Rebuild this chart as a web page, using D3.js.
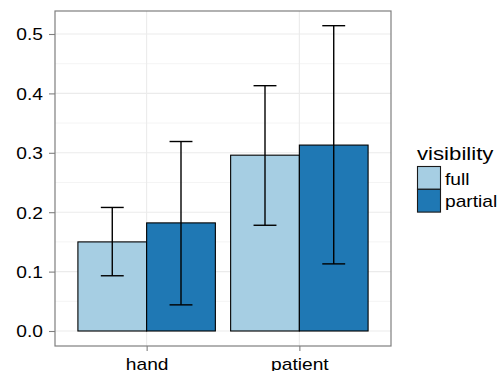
<!DOCTYPE html>
<html><head><meta charset="utf-8">
<script src="https://cdn.jsdelivr.net/npm/d3@7"></script>
<style>body{margin:0;background:#fff;} svg{display:block;}</style>
</head><body>
<script>
const categories = ["hand", "patient"];
const seriesNames = ["full", "partial"];
const fullMean = [0.150, 0.296];
const fullLow = [0.093, 0.178];
const fullHigh = [0.208, 0.413];
const partialMean = [0.182, 0.313];
const partialLow = [0.044, 0.113];
const partialHigh = [0.319, 0.514];
const yTicks = [0.0, 0.1, 0.2, 0.3, 0.4, 0.5];
const yMinor = [0.05, 0.15, 0.25, 0.35, 0.45];
const colors = ["#A6CEE3", "#1F78B4"];
const legendTitle = "visibility";

const W = 503, H = 371;
const panel = {l: 55, r: 391, t: 11, b: 346};
const SX = 1.2;
const FONT = "'Liberation Sans', Arial, sans-serif";

const svg = d3.select("body").append("svg").attr("width", W).attr("height", H);

const y = d3.scaleLinear().domain([0, 0.5]).range([331, 34]);
const x = d3.scalePoint().domain(categories).range([panel.l, panel.r]).padding(0.6);
const step = x.step();
const dodge = d3.scaleBand().domain(seriesNames).range([-0.45 * step, 0.45 * step]).padding(0);

// grid
const g = svg.append("g");
g.selectAll(".minor").data(yMinor).join("line")
  .attr("x1", panel.l).attr("x2", panel.r)
  .attr("y1", d => y(d)).attr("y2", d => y(d))
  .attr("stroke", "#f3f3f3").attr("stroke-width", 0.9);
g.selectAll(".major").data(yTicks).join("line")
  .attr("x1", panel.l).attr("x2", panel.r)
  .attr("y1", d => y(d)).attr("y2", d => y(d))
  .attr("stroke", "#ebebeb").attr("stroke-width", 1.1);
g.selectAll(".vmajor").data(categories).join("line")
  .attr("x1", d => x(d)).attr("x2", d => x(d))
  .attr("y1", panel.t).attr("y2", panel.b)
  .attr("stroke", "#ebebeb").attr("stroke-width", 1.1);

// data
const rows = [];
categories.forEach((c, i) => {
  rows.push({cat: c, s: "full", mean: fullMean[i], lo: fullLow[i], hi: fullHigh[i], color: colors[0]});
  rows.push({cat: c, s: "partial", mean: partialMean[i], lo: partialLow[i], hi: partialHigh[i], color: colors[1]});
});

svg.append("g").selectAll("rect").data(rows).join("rect")
  .attr("x", d => x(d.cat) + dodge(d.s))
  .attr("width", dodge.bandwidth())
  .attr("y", d => y(d.mean))
  .attr("height", d => y(0) - y(d.mean))
  .attr("fill", d => d.color)
  .attr("stroke", "#000").attr("stroke-width", 1.1);

const ew = 0.15 * step;
const eb = svg.append("g").attr("stroke", "#000").attr("stroke-width", 1.4).attr("fill", "none");
rows.forEach(d => {
  const cx = x(d.cat) + dodge(d.s) + dodge.bandwidth() / 2;
  eb.append("line").attr("x1", cx).attr("x2", cx).attr("y1", y(d.lo)).attr("y2", y(d.hi));
  eb.append("line").attr("x1", cx - ew / 2).attr("x2", cx + ew / 2).attr("y1", y(d.lo)).attr("y2", y(d.lo));
  eb.append("line").attr("x1", cx - ew / 2).attr("x2", cx + ew / 2).attr("y1", y(d.hi)).attr("y2", y(d.hi));
});

// panel border
svg.append("rect").attr("x", panel.l).attr("y", panel.t)
  .attr("width", panel.r - panel.l).attr("height", panel.b - panel.t)
  .attr("fill", "none").attr("stroke", "#7f7f7f").attr("stroke-width", 1.2);

// axes
const ya = svg.append("g").attr("transform", `translate(${panel.l},0)`)
  .call(d3.axisLeft(y).tickValues(yTicks).tickFormat(d3.format(".1f")).tickSize(6).tickPadding(0));
ya.select(".domain").remove();
ya.selectAll(".tick line").attr("stroke", "#7f7f7f").attr("stroke-width", 1.1);
ya.selectAll(".tick text").attr("x", null).attr("dy", null)
  .attr("transform", "translate(-12,5.8) scale(" + SX + ",1)")
  .attr("font-family", FONT).attr("font-size", 16).attr("fill", "#000").attr("text-anchor", "end");

const xa = svg.append("g").attr("transform", `translate(0,${panel.b})`)
  .call(d3.axisBottom(x).tickSize(5).tickPadding(0));
xa.select(".domain").remove();
xa.selectAll(".tick line").attr("stroke", "#7f7f7f").attr("stroke-width", 1.1);
xa.selectAll(".tick text").attr("y", null).attr("dy", null)
  .attr("transform", "translate(0,24) scale(" + SX + ",1)")
  .attr("font-family", FONT).attr("font-size", 16).attr("fill", "#000").attr("text-anchor", "middle");

// legend
const lg = svg.append("g");
lg.append("text").text(legendTitle)
  .attr("transform", "translate(417,160) scale(1.2,1)")
  .attr("font-family", FONT).attr("font-size", 18.5).attr("fill", "#000");
const keyH = 22.8;
seriesNames.forEach((s, i) => {
  const ky = 166.5 + i * keyH;
  lg.append("rect").attr("x", 417.5).attr("y", ky).attr("width", 23).attr("height", keyH)
    .attr("fill", colors[i]).attr("stroke", "#1a1a1a").attr("stroke-width", 1.1);
  lg.append("text").text(s)
    .attr("transform", `translate(445,${ky + 18}) scale(1.2,1)`)
    .attr("font-family", FONT).attr("font-size", 16).attr("fill", "#000");
});
</script>
</body></html>
